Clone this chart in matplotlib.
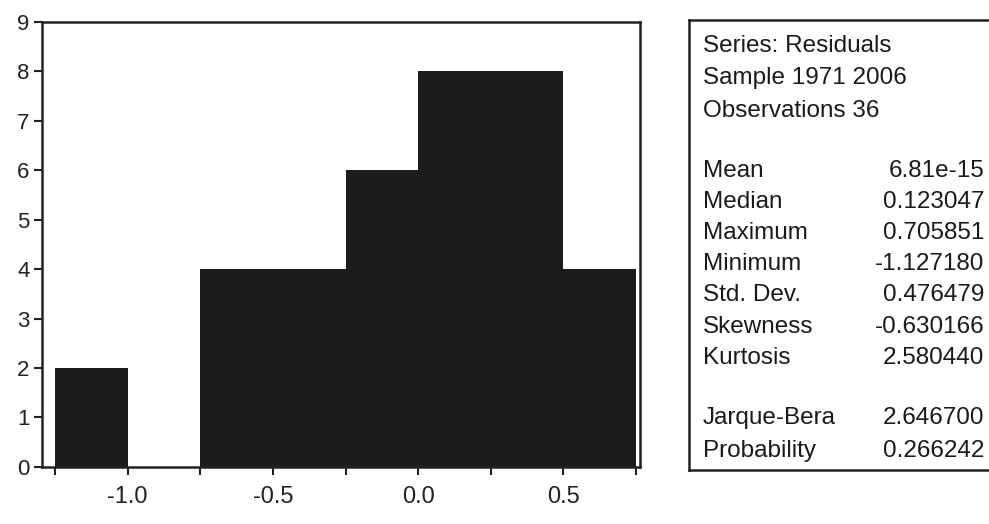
import matplotlib.pyplot as plt
from matplotlib.ticker import MultipleLocator

plt.rcParams['font.family'] = ['Liberation Sans', 'DejaVu Sans']

# Histogram of residuals (bin edges and counts)
bin_edges = [-1.25, -1.0, -0.75, -0.5, -0.25, 0.0, 0.25, 0.5, 0.75]
counts = [2, 0, 4, 4, 6, 8, 8, 4]

# Summary statistics panel
header = ["Series: Residuals", "Sample 1971 2006", "Observations 36"]
stat_names = ["Mean", "Median", "Maximum", "Minimum", "Std. Dev.",
              "Skewness", "Kurtosis"]
stat_values = ["6.81e-15", "0.123047", "0.705851", "-1.127180", "0.476479",
               "-0.630166", "2.580440"]
test_names = ["Jarque-Bera", "Probability"]
test_values = ["2.646700", "0.266242"]

fig = plt.figure(figsize=(9.89, 5.24), dpi=100)
ax = fig.add_axes([0.0425, 0.109, 0.605, 0.849])

lefts = bin_edges[:-1]
widths = [b - a for a, b in zip(bin_edges[:-1], bin_edges[1:])]
ax.bar(lefts, counts, width=widths, align='edge', color='#1c1c1c',
       edgecolor='none')

ax.set_xlim(-1.295, 0.765)
ax.set_ylim(0, 9)
ax.xaxis.set_minor_locator(MultipleLocator(0.25))
ax.yaxis.set_major_locator(MultipleLocator(1))
ax.set_xticks([-1.0, -0.5, 0.0, 0.5])
ax.set_xticklabels(["-1.0", "-0.5", "0.0", "0.5"])
ax.tick_params(axis='x', which='both', direction='out', length=6, width=1.5,
               labelsize=17, pad=8, colors='#222222')
ax.tick_params(axis='y', direction='out', length=6, width=1.5, labelsize=16,
               pad=3, colors='#222222')
for s in ax.spines.values():
    s.set_linewidth(1.8)
    s.set_color('#222222')

# Stats box
box = fig.add_axes([0.697, 0.103, 0.31, 0.859])
box.set_xticks([])
box.set_yticks([])
for s in box.spines.values():
    s.set_linewidth(1.8)
    s.set_color('#222222')
box.set_xlim(0, 1)
box.set_ylim(0, 1)

fs = 17.5
tc = '#1a1a1a'
tx = box.transAxes
y0, dy = 0.943, 0.0722
for i, t in enumerate(header):
    box.text(0.045, y0 - i * dy, t, fontsize=fs, va='center', color=tc,
             transform=tx)
y1 = 0.665
for i, (n, v) in enumerate(zip(stat_names, stat_values)):
    box.text(0.045, y1 - i * 0.0693, n, fontsize=fs, va='center', color=tc,
             transform=tx)
    box.text(0.962, y1 - i * 0.0693, v, fontsize=fs, va='center', ha='right',
             color=tc, transform=tx)
y2 = 0.115
for i, (n, v) in enumerate(zip(test_names, test_values)):
    box.text(0.045, y2 - i * 0.073, n, fontsize=fs, va='center', color=tc,
             transform=tx)
    box.text(0.962, y2 - i * 0.073, v, fontsize=fs, va='center', ha='right',
             color=tc, transform=tx)

fig.savefig("out.png", dpi=100)
